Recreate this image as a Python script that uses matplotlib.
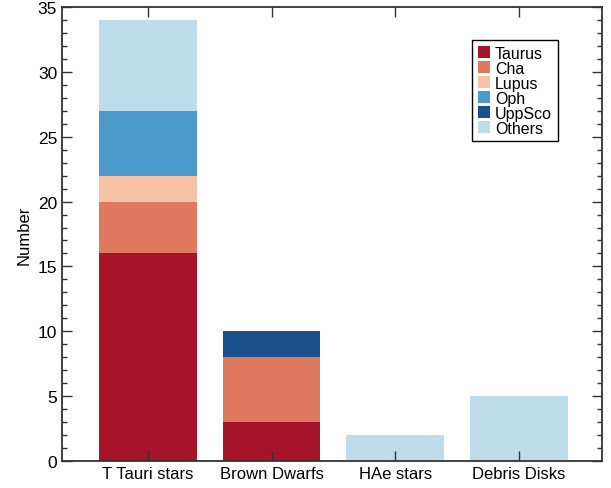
import matplotlib
matplotlib.use('Agg')
import matplotlib.pyplot as plt
import numpy as np
from matplotlib.ticker import MultipleLocator

plt.rcParams['font.family'] = ['Liberation Sans', 'DejaVu Sans']

categories = ['T Tauri stars', 'Brown Dwarfs', 'HAe stars', 'Debris Disks']
regions = ['Taurus', 'Cha', 'Lupus', 'Oph', 'UppSco', 'Others']
counts = {
    'Taurus': [16, 3, 0, 0],
    'Cha':    [4, 5, 0, 0],
    'Lupus':  [2, 0, 0, 0],
    'Oph':    [5, 0, 0, 0],
    'UppSco': [0, 2, 0, 0],
    'Others': [7, 0, 2, 5],
}
colors = ['#a51429', '#e07860', '#f8c2a6', '#4a9bcb', '#1a4f8d', '#bfdcea']

fig = plt.figure(figsize=(6.11, 4.89), dpi=100)
ax = fig.add_axes([0.1015, 0.0552, 0.8835, 0.9284])

x = np.arange(len(categories))
bottom = np.zeros(len(categories))
for reg, col in zip(regions, colors):
    vals = np.array(counts[reg], dtype=float)
    ax.bar(x, vals, width=0.79, bottom=bottom, color=col, label=reg, zorder=1)
    bottom += vals

ax.set_xlim(-0.695, 3.67)
ax.set_ylim(0, 35)
ax.set_xticks(x)
ax.set_xticklabels(categories, fontsize=12)
ax.yaxis.set_major_locator(MultipleLocator(5))
ax.yaxis.set_minor_locator(MultipleLocator(1))
ax.tick_params(axis='both', direction='in', labelsize=12.5, length=7.5, width=1,
               top=True, right=True, color='#333333', zorder=5)
ax.tick_params(axis='x', labelsize=12)
ax.tick_params(axis='y', which='minor', direction='in', length=3.8, width=1,
               right=True, color='#333333')
ax.tick_params(axis='x', which='minor', bottom=False, top=False)
ax.set_axisbelow(False)
for s in ax.spines.values():
    s.set_linewidth(1.3)
    s.set_color('#333333')
ax.set_ylabel('Number', fontsize=12)

leg = ax.legend(loc='upper right', bbox_to_anchor=(0.933, 0.945), fontsize=11.5,
                handlelength=0.8, handleheight=0.8, handletextpad=0.3,
                labelspacing=0.0, borderpad=0.35, fancybox=False, framealpha=1)
leg.get_frame().set_edgecolor('black')
leg.get_frame().set_linewidth(1)

fig.savefig('out.png', dpi=100)
